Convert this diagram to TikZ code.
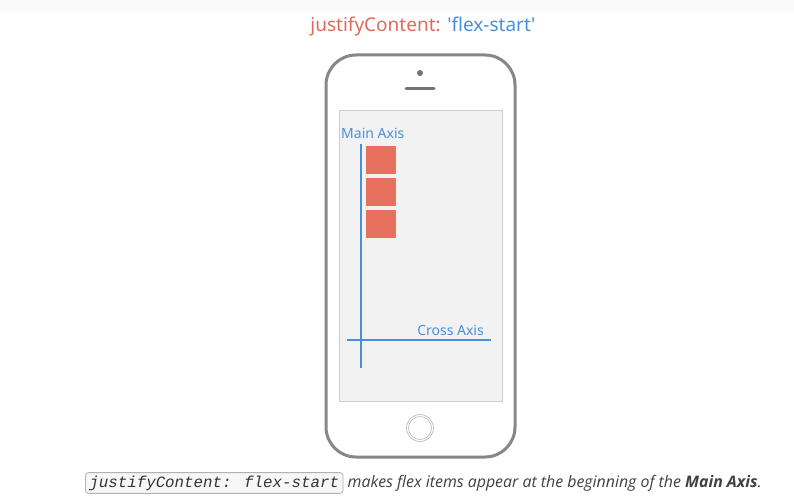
\documentclass[tikz,border=0pt]{standalone}
\usepackage{fontspec}
\setmainfont{Open Sans}
\newfontfamily\titlefont{Noto Sans}
\newfontfamily\codefont{Liberation Mono}
\begin{document}
\begin{tikzpicture}[x=1pt,y=-1pt,
  phone/.style={draw=black!47,line width=3pt,rounded corners=30pt},
  screen/.style={draw=black!20,fill=black!5,line width=0.8pt},
  axis/.style={draw=axisblue,line width=2pt},
  item/.style={fill=itemred,draw=none,minimum width=30pt,minimum height=28pt,inner sep=0pt,anchor=north west},
  axislabel/.style={text=axisblue,font=\titlefont\fontsize{14}{16}\selectfont,inner sep=0pt},
  codebox/.style={draw=black!30,fill=black!3,rounded corners=3pt,line width=0.8pt,inner xsep=4pt,inner ysep=3pt}
]
\definecolor{axisblue}{HTML}{4A8FDB}
\definecolor{itemred}{HTML}{E8705F}
\definecolor{titlered}{HTML}{E06B5C}
\useasboundingbox[fill=white] (0,0) rectangle (794,503);
\fill[black!2] (0,0) rectangle (794,12);

% heading
\node[font=\titlefont\fontsize{19}{22}\selectfont,inner sep=0pt] (title) at (423,27)
  {\textcolor{titlered}{justifyContent:} \textcolor{axisblue}{'flex-start'}};

% phone body
\draw[phone] (326,55) rectangle (515,457);
\node[screen,minimum width=163pt,minimum height=291pt,inner sep=0pt,anchor=north west] (scr) at (339,110) {};
\fill[black!55] (420,73) circle (3pt);
\draw[black!55,line width=3pt,line cap=round] (406,88) -- (434,88);
\draw[black!25,line width=0.7pt] (420,428) circle (13.5pt);
\draw[black!25,line width=0.7pt] (420,428) circle (11.5pt);

% axes
\coordinate (mtop) at (361,144);
\coordinate (mbot) at (361,368);
\coordinate (cl) at (347,340);
\coordinate (cr) at (491,340);
\draw[axis] (mtop) -- (mbot);
\draw[axis] (cl) -- (cr);
\node[axislabel,anchor=south west] (mlabel) at (341,139) {Main Axis};
\node[axislabel,anchor=south east] (clabel) at (484,336) {Cross Axis};

% flex items
\node[item] (i1) at (366,146) {};
\node[item] (i2) at (366,178) {};
\node[item] (i3) at (366,210) {};

% caption
\node[codebox,anchor=west,font=\codefont\itshape\fontsize{15.8}{18}\selectfont,text=black!80] (code) at (85,483) {justifyContent: flex-start};
\node[anchor=west,inner sep=0pt,font=\itshape\fontsize{15.9}{18}\selectfont,text=black!75] (cap) at ([xshift=4pt]code.east)
  {makes flex items appear at the beginning of the \textbf{Main Axis}.};
\end{tikzpicture}
\end{document}
